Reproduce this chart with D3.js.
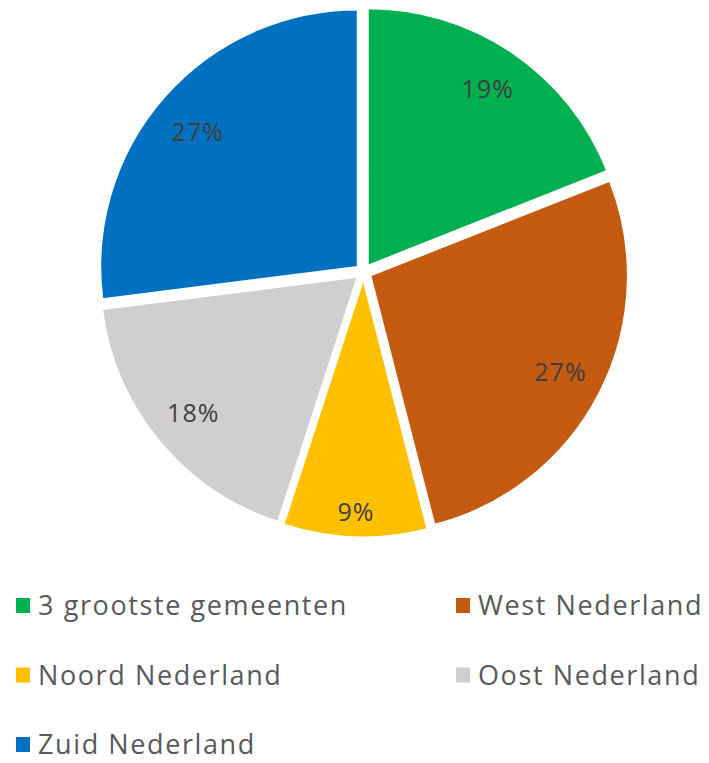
<!DOCTYPE html>
<meta charset="utf-8">
<script src="https://d3js.org/d3.v7.min.js"></script>
<style>
  body { margin: 0; background: #fff; }
</style>
<div id="my_dataviz"></div>
<script>

  // data
  var categories = ["3 grootste gemeenten", "West Nederland", "Noord Nederland", "Oost Nederland", "Zuid Nederland"];
  var values = [19, 27, 9, 18, 27];
  var colors = ["#00B050", "#C55A11", "#FFC000", "#D0CECE", "#0070C0"];

  var width = 709, height = 763;
  var cx = 363.5, cy = 272, radius = 257, explode = 8;

  var svg = d3.select("#my_dataviz")
    .append("svg")
      .attr("width", width)
      .attr("height", height)
      .style("font-family", "'Open Sans', Lato, sans-serif");

  var data = categories.map(function(c, i) { return {name: c, value: values[i], color: colors[i]}; });

  var pie = d3.pie()
    .sort(null)
    .value(function(d) { return d.value; });

  var arc = d3.arc().innerRadius(0).outerRadius(radius);

  var g = svg.append("g")
    .attr("transform", "translate(" + cx + "," + cy + ")");

  var slices = g.selectAll(".slice")
    .data(pie(data))
    .enter()
    .append("g")
      .attr("class", "slice")
      .attr("transform", function(d) {
        var a = (d.startAngle + d.endAngle) / 2;
        return "translate(" + (Math.sin(a) * explode) + "," + (-Math.cos(a) * explode) + ")";
      });

  slices.append("path")
    .attr("d", arc)
    .style("fill", function(d) { return d.data.color; })
    .style("stroke", "#fff")
    .style("stroke-width", 1.5);

  // percentage labels
  slices.append("text")
    .attr("transform", function(d) {
      var span = d.endAngle - d.startAngle;
      var r = span < 0.7 ? 232 : 213;
      var a = (d.startAngle + d.endAngle) / 2;
      return "translate(" + (Math.sin(a) * r) + "," + (-Math.cos(a) * r + (a > 5 ? 6 : 0)) + ")";
    })
    .attr("text-anchor", "middle")
    .attr("dy", "0.36em")
    .style("font-size", "25px")
    .style("letter-spacing", "1px")
    .style("fill", "#404040")
    .text(function(d) { return d.data.value + "%"; });

  // legend
  var legend = svg.append("g")
    .attr("class", "legend")
    .attr("transform", "translate(16,597)");

  var item = legend.selectAll(".item")
    .data(data)
    .enter()
    .append("g")
      .attr("class", "item")
      .attr("transform", function(d, i) {
        return "translate(" + ((i % 2) * 440) + "," + (Math.floor(i / 2) * 69.5) + ")";
      });

  item.append("rect")
    .attr("x", 0)
    .attr("y", 1)
    .attr("width", 14)
    .attr("height", 15)
    .style("fill", function(d) { return d.color; });

  item.append("text")
    .attr("x", 22)
    .attr("y", 18)
    .style("font-size", "27px")
    .style("letter-spacing", "1.6px")
    .style("fill", "#595959")
    .text(function(d) { return d.name; });

</script>
